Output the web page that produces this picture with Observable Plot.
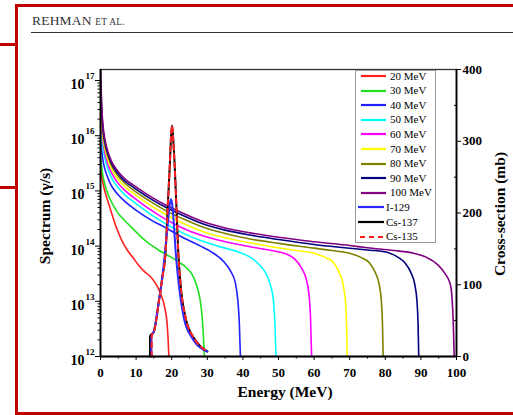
<!DOCTYPE html>
<html><head><meta charset="utf-8">
<script src="https://cdn.jsdelivr.net/npm/d3@7"></script>
<script src="https://cdn.jsdelivr.net/npm/@observablehq/plot@0.6"></script>
<style>
body{margin:0;background:#fff;}
#wrap{position:relative;width:513px;height:415px;overflow:hidden;font-family:"Liberation Serif","Times New Roman",serif;color:#000;}
#wrap svg{position:absolute;left:0;top:0;}
.redframe{position:absolute;left:15px;top:4px;width:600px;height:410.5px;box-sizing:border-box;border:3px solid #c00000;}
.bracket{position:absolute;left:0;width:18px;height:3px;background:#c00000;}
.hdr{position:absolute;left:32px;top:13px;font-size:13.5px;color:#333;letter-spacing:0.2px;}
.hdr small{font-size:9.5px;}
.hline{position:absolute;left:31px;top:31.5px;width:490px;height:1.3px;background:#333;}
.title{position:absolute;font-weight:bold;font-size:15.5px;white-space:nowrap;}
.legend{position:absolute;left:355px;top:69.5px;width:81px;height:173px;box-sizing:border-box;border:1px solid #999;background:#fff;}
.row{position:absolute;left:0;font-size:11px;white-space:nowrap;line-height:11px;}
</style></head><body><div id="wrap"></div>
<script>
// ---------- data ----------
const seriesNames = ["20 MeV","30 MeV","40 MeV","50 MeV","60 MeV","70 MeV","80 MeV","90 MeV","100 MeV"];
const seriesColors = ["#ff2020","#20e020","#2020ff","#00ffff","#ff00ff","#ffff00","#808000","#000080","#800080"];
// [energy MeV, log10 spectrum (gamma/s)]
const spec20 = [[0.05,15.35],[1,15.05],[2.34,14.76],[3.5,14.52],[4.68,14.3],[6,14.1],[7.5,13.93],[9.36,13.77],[11,13.63],[12.5,13.53],[14,13.45],[15.5,13.32],[16.5,13.2],[17.3,13.07],[18.0,12.9],[18.7,12.6],[19.0,12.3],[19.2,12.0]];
const spec30 = [[0.05,15.6],[0.5,15.35],[1.2,15.12],[2.5,14.88],[4.68,14.62],[7,14.45],[9.36,14.3],[12,14.13],[14,14.03],[16.5,13.92],[18.7,13.84],[22,13.71],[24.3,13.6],[25.8,13.48],[26.8,13.33],[27.6,13.15],[28.3,12.88],[28.8,12.5],[29.2,12.0]];
const spec40 = [[0.05,15.9],[0.3,15.75],[0.7,15.55],[1.2,15.4],[2,15.25],[3,15.1],[4.7,14.95],[7,14.8],[9.36,14.68],[14,14.48],[18.7,14.32],[23,14.16],[28.1,14.0],[31,13.9],[34.6,13.72],[36.5,13.55],[37.9,13.33],[38.6,13.0],[39.0,12.6],[39.3,12.0]];
const spec50 = [[0.05,16.2],[0.3,16.0],[0.7,15.78],[1.2,15.6],[2,15.41],[3,15.25],[4.7,15.08],[7,14.92],[9.36,14.8],[14,14.58],[18.7,14.39],[23,14.24],[28.1,14.1],[33,14.0],[39.3,13.88],[42,13.8],[44.5,13.67],[46.5,13.5],[47.8,13.28],[48.6,13.0],[49.0,12.6],[49.3,12.0]];
const spec60 = [[0.05,16.4],[0.3,16.15],[0.7,15.9],[1.2,15.7],[2,15.5],[3,15.34],[4.7,15.16],[7,15.0],[9.36,14.88],[14,14.66],[18.7,14.47],[23,14.33],[28.1,14.2],[35,14.08],[42,13.99],[48,13.92],[52,13.86],[54.5,13.77],[56.5,13.6],[57.8,13.4],[58.6,13.1],[59.0,12.7],[59.3,12.0]];
const spec70 = [[0.05,16.6],[0.3,16.3],[0.7,15.98],[1.2,15.78],[2,15.58],[3,15.41],[4.7,15.23],[7,15.07],[9.36,14.95],[14,14.74],[18.7,14.56],[23,14.42],[28.1,14.28],[35,14.15],[42,14.06],[48,13.99],[55,13.92],[60,13.87],[63,13.8],[65.5,13.7],[67.2,13.5],[68.3,13.25],[68.9,12.9],[69.15,12.5],[69.3,12.0]];
const spec80 = [[0.05,16.8],[0.3,16.4],[0.7,16.05],[1.2,15.84],[2,15.64],[3,15.47],[4.7,15.29],[7,15.13],[9.36,15.01],[14,14.81],[18.7,14.63],[23,14.5],[28.1,14.36],[35,14.23],[42,14.13],[50,14.05],[58,13.98],[65,13.92],[70,13.87],[73,13.8],[75.5,13.7],[77.2,13.52],[78.3,13.3],[78.9,13.0],[79.2,12.6],[79.4,12.0]];
const spec90 = [[0.05,17.0],[0.3,16.5],[0.7,16.12],[1.2,15.9],[2,15.69],[3,15.51],[4.7,15.33],[7,15.17],[9.36,15.06],[14,14.86],[18.7,14.69],[23,14.56],[28.1,14.42],[35,14.29],[42,14.2],[50,14.12],[60,14.03],[70,13.96],[75,13.93],[80.5,13.89],[83.5,13.8],[85.5,13.7],[87.2,13.52],[88.3,13.3],[88.9,13.0],[89.2,12.6],[89.4,12.0]];
const spec100 = [[0.05,17.2],[0.3,16.6],[0.7,16.2],[1.2,15.95],[2,15.73],[3,15.55],[4.7,15.37],[7,15.21],[9.36,15.1],[14,14.9],[18.7,14.73],[23,14.6],[28.1,14.46],[35,14.33],[42,14.24],[50,14.16],[60,14.08],[70,14.01],[75,13.97],[82.4,13.92],[88,13.87],[91.5,13.8],[94.6,13.67],[96.8,13.5],[98.3,13.3],[98.8,13.0],[99.1,12.6],[99.35,12.0]];
const spectra = [spec20,spec30,spec40,spec50,spec60,spec70,spec80,spec90,spec100];

// photonuclear cross-sections [energy MeV, mb] (right axis)
const xsNames = ["I-129","Cs-137","Cs-135"];
const xsI129 = [[14.3,0],[14.3,28],[15.0,35],[16.4,77],[17.3,108],[18.2,150],[18.9,185],[19.4,210],[19.8,219],[20.2,210],[20.6,185],[21.1,147],[22.0,100],[23.4,54],[25.7,26],[29.0,9],[30.0,7]];
const xsCs137 = [[13.9,0],[13.9,28],[15.0,35],[16.4,77],[17.3,108],[18.3,147],[19.0,220],[19.5,270],[19.8,305],[20.1,322],[20.4,305],[20.8,270],[21.2,225],[21.8,150],[22.5,100],[23.9,54],[26.2,26],[28.1,14],[30.0,7]];
const xsCs135 = [[14.4,0],[14.4,29],[15.1,36],[16.4,77],[17.3,108],[18.3,147],[19.0,220],[19.5,270],[19.8,305],[20.1,322],[20.4,305],[20.8,270],[21.2,225],[21.8,150],[22.5,100],[23.9,54],[26.2,26],[28.1,14],[30.0,7]];

// ticks
const xMajor = [0,10,20,30,40,50,60,70,80,90,100];
const xMinor = [5,15,25,35,45,55,65,75,85,95];
const yDecades = [12,13,14,15,16,17];
const mbMajor = [0,100,200,300,400];
const mbMinor = [50,150,250,350];

// ---------- scale helpers ----------
const yTopLog = 17.2;           // top of left axis (log10)
const mbMax = 400;              // top of right axis
const mbToY = mb => 10 ** (12 + mb * (yTopLog - 12) / mbMax);
const yMinor = yDecades.slice(0,-1).flatMap(d => [2,3,4,5,6,7,8,9].map(k => k * 10 ** d));

const specRows = spectra.map((s,i) => s.map(([e,l]) => ({name: seriesNames[i], E: e, S: 10 ** l})));
const xsRows = [xsI129, xsCs137, xsCs135].map((s,i) => s.map(([e,mb]) => ({name: xsNames[i], E: e, Y: mbToY(mb)})));

const font = {fontSize: 13, fontWeight: "bold"};
const chart = Plot.plot({
  width: 513, height: 415,
  marginLeft: 100, marginRight: 57, marginTop: 69, marginBottom: 59,
  style: {fontFamily: '"Liberation Serif","Times New Roman",serif', color: "#000", background: "transparent", overflow: "visible"},
  x: {domain: [0, 100]},
  y: {type: "log", domain: [1e12, 10 ** yTopLog]},
  marks: [
    ...specRows.map((rows, i) => Plot.line(rows, {x: "E", y: "S", stroke: seriesColors[i], strokeWidth: 1.6, curve: "monotone-x"})),
    Plot.line(xsRows[1], {x: "E", y: "Y", stroke: "#000", strokeWidth: 2, curve: "monotone-x"}),
    Plot.line(xsRows[0], {x: "E", y: "Y", stroke: "#2a2aff", strokeWidth: 2, curve: "monotone-x"}),
    Plot.line(xsRows[2], {x: "E", y: "Y", stroke: "#ff2020", strokeWidth: 2, strokeDasharray: "5,4", curve: "monotone-x"}),
    Plot.frame({stroke: "#333", strokeWidth: 1.3}),
    Plot.ruleX([0], {stroke: "#000", strokeWidth: 1.8}),
    Plot.ruleX([100], {stroke: "#000", strokeWidth: 1.8}),
    Plot.ruleY([1e12], {stroke: "#000", strokeWidth: 1.8}),
    // bottom axis
    Plot.axisX(xMajor, {anchor: "bottom", tickSize: 4, tickPadding: 7, label: null, ...font}),
    Plot.axisX(xMinor, {anchor: "bottom", tickSize: 2.5, tickFormat: () => "", label: null}),
    // left axis
    Plot.axisY(yDecades.map(d => 10 ** d), {anchor: "left", tickSize: 5, tickFormat: () => "", label: null}),
    Plot.axisY(yMinor, {anchor: "left", tickSize: 2.5, tickFormat: () => "", label: null}),
    Plot.text(yDecades, {y: d => 10 ** d, frameAnchor: "left", text: () => "10", textAnchor: "end", dx: -16, dy: 4, fontSize: 14, fontWeight: "bold"}),
    Plot.text(yDecades, {y: d => 10 ** d, frameAnchor: "left", text: d => String(d), textAnchor: "start", dx: -15, dy: -4.5, fontSize: 9, fontWeight: "bold"}),
    // right axis (cross-section, mb)
    Plot.axisY(mbMajor.map(mbToY), {anchor: "right", tickSize: 4, tickFormat: () => "", label: null}),
    Plot.axisY(mbMinor.map(mbToY), {anchor: "right", tickSize: -3, tickFormat: () => "", label: null}),
    Plot.text(mbMajor, {y: d => mbToY(d), frameAnchor: "right", text: d => String(d), textAnchor: "start", dx: 6, ...font})
  ]
});

const wrap = document.getElementById("wrap");
wrap.innerHTML = `
<div class="redframe"></div>
<div class="bracket" style="top:42.5px"></div>
<div class="bracket" style="top:186px"></div>
<div class="hdr">REHMAN <small>ET AL.</small></div>
<div class="hline"></div>`;
wrap.appendChild(chart);

// titles
const t1 = document.createElement("div");
t1.className = "title"; t1.textContent = "Energy (MeV)";
t1.style.left = "285px"; t1.style.top = "392px"; t1.style.transform = "translate(-50%,-50%)";
wrap.appendChild(t1);
const t2 = document.createElement("div");
t2.className = "title"; t2.textContent = "Spectrum (\u03b3/s)";
t2.style.left = "45px"; t2.style.top = "216px"; t2.style.transform = "translate(-50%,-50%) rotate(-90deg)";
wrap.appendChild(t2);
const t3 = document.createElement("div");
t3.className = "title"; t3.textContent = "Cross-section (mb)";
t3.style.left = "500px"; t3.style.top = "214px"; t3.style.transform = "translate(-50%,-50%) rotate(-90deg)";
wrap.appendChild(t3);

// legend
const legendItems = [
  ...seriesNames.map((n,i) => ({label: n, color: seriesColors[i], dash: null, x0: 5, x1: 30, tx: 34})),
  {label: "I-129", color: "#2a2aff", dash: null, x0: 2, x1: 28, tx: 30},
  {label: "Cs-137", color: "#000", dash: null, x0: 2, x1: 28, tx: 30},
  {label: "Cs-135", color: "#ff2020", dash: "5,4", x0: 4, x1: 28, tx: 30}
];
const leg = document.createElement("div");
leg.className = "legend";
legendItems.forEach((it, i) => {
  const cy = 5.5 + i * 14.6;
  const r = document.createElement("div");
  r.className = "row";
  r.style.top = (cy - 6) + "px";
  r.style.width = "80px";
  r.innerHTML = `<svg width="32" height="12" style="position:absolute;left:0;top:0;overflow:visible"><line x1="${it.x0}" x2="${it.x1}" y1="6" y2="6" stroke="${it.color}" stroke-width="2.2" ${it.dash ? `stroke-dasharray="${it.dash}"` : ""}/></svg><span style="position:absolute;left:${it.tx}px;top:0.5px">${it.label}</span>`;
  leg.appendChild(r);
});
wrap.appendChild(leg);
</script></body></html>
